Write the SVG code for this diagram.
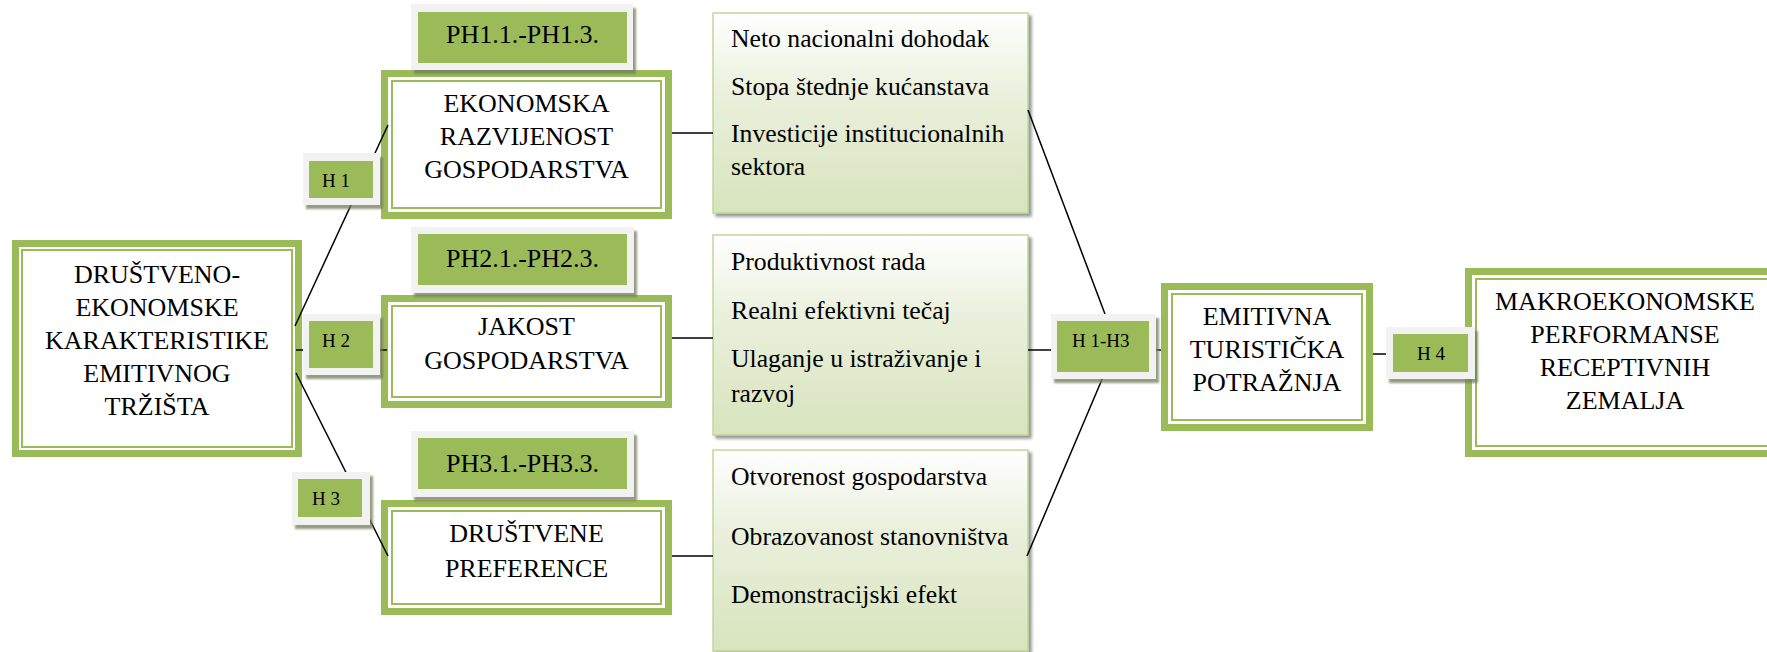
<svg xmlns="http://www.w3.org/2000/svg" width="1767" height="652" viewBox="0 0 1767 652">
<defs>
<linearGradient id="lg" x1="0" y1="0" x2="0" y2="1">
<stop offset="0" stop-color="#ffffff"/>
<stop offset="0.4" stop-color="#eaf0dc"/>
<stop offset="1" stop-color="#d7e4bd"/>
</linearGradient>
<filter id="sh" x="-10%" y="-10%" width="130%" height="140%">
<feDropShadow dx="3" dy="4" stdDeviation="1.2" flood-color="#6f7a5a" flood-opacity="0.75"/>
</filter>
<filter id="sh2" x="-5%" y="-5%" width="115%" height="115%">
<feDropShadow dx="3" dy="3" stdDeviation="1.5" flood-color="#7f7f7f" flood-opacity="0.8"/>
</filter>
</defs>
<style>
text{font-family:'Liberation Serif','Times New Roman',Times,serif;font-size:26px;fill:#000}
.c{text-anchor:middle}
.l{font-size:25.7px}
.h{font-size:19px}
.g{fill:#9bbb59}
.w{fill:#ffffff}
.tl{fill:none;stroke:#9bbb59;stroke-width:2}
.fr{fill:#f2f2f2}
.lb{fill:url(#lg);stroke:#c3d69b;stroke-width:1.5}
.cn{stroke:#000;stroke-width:1.5;fill:none}
</style>
<rect width="1767" height="652" fill="#ffffff"/>
<g font-family="Liberation Serif, serif">

<g id="main">
<rect class="g" x="12" y="240" width="290" height="217"/>
<rect class="w" x="19" y="247" width="276" height="203"/>
<rect class="tl" x="22" y="250" width="270" height="197"/>
<text class="c" x="157" y="283" font-family="Liberation Serif, serif">DRUŠTVENO-</text>
<text class="c" x="157" y="316" font-family="Liberation Serif, serif">EKONOMSKE</text>
<text class="c" x="157" y="349" font-family="Liberation Serif, serif">KARAKTERISTIKE</text>
<text class="c" x="157" y="382" font-family="Liberation Serif, serif">EMITIVNOG</text>
<text class="c" x="157" y="415" font-family="Liberation Serif, serif">TRŽIŠTA</text>
</g>

<g id="ekonomska">
<rect class="g" x="381" y="70" width="291" height="149"/>
<rect class="w" x="388" y="77" width="277" height="135"/>
<rect class="tl" x="392" y="81" width="269" height="127"/>
<text class="c" x="526.5" y="112">EKONOMSKA</text>
<text class="c" x="526.5" y="145">RAZVIJENOST</text>
<text class="c" x="526.5" y="178">GOSPODARSTVA</text>
</g>

<g id="jakost">
<rect class="g" x="381" y="295" width="291" height="113"/>
<rect class="w" x="388" y="302" width="277" height="99"/>
<rect class="tl" x="392" y="306" width="269" height="91"/>
<text class="c" x="526.5" y="335">JAKOST</text>
<text class="c" x="526.5" y="369">GOSPODARSTVA</text>
</g>

<g id="drustvene">
<rect class="g" x="381" y="500" width="291" height="115"/>
<rect class="w" x="388" y="507" width="277" height="101"/>
<rect class="tl" x="392" y="511" width="269" height="93"/>
<text class="c" x="526.5" y="542">DRUŠTVENE</text>
<text class="c" x="526.5" y="577">PREFERENCE</text>
</g>

<g id="emitivna">
<rect class="g" x="1161" y="283" width="212" height="148"/>
<rect class="w" x="1168" y="290" width="198" height="134"/>
<rect class="tl" x="1172" y="294" width="190" height="126"/>
<text class="c" x="1267" y="325">EMITIVNA</text>
<text class="c" x="1267" y="358">TURISTIČKA</text>
<text class="c" x="1267" y="391">POTRAŽNJA</text>
</g>

<g id="makro">
<rect class="g" x="1465" y="268" width="340" height="189"/>
<rect class="w" x="1472" y="275" width="326" height="175"/>
<rect class="tl" x="1476" y="279" width="318" height="167"/>
<text class="c" x="1625" y="310">MAKROEKONOMSKE</text>
<text class="c" x="1625" y="343">PERFORMANSE</text>
<text class="c" x="1625" y="376">RECEPTIVNIH</text>
<text class="c" x="1625" y="409">ZEMALJA</text>
</g>

<g id="list1">
<rect class="lb" x="713" y="13" width="315" height="200" filter="url(#sh2)"/>
<text class="l" x="731" y="47">Neto nacionalni dohodak</text>
<text class="l" x="731" y="95">Stopa štednje kućanstava</text>
<text class="l" x="731" y="142">Investicije institucionalnih</text>
<text class="l" x="731" y="175">sektora</text>
</g>

<g id="list2">
<rect class="lb" x="713" y="235" width="315" height="200" filter="url(#sh2)"/>
<text class="l" x="731" y="270">Produktivnost rada</text>
<text class="l" x="731" y="319">Realni efektivni tečaj</text>
<text class="l" x="731" y="367">Ulaganje u istraživanje i</text>
<text class="l" x="731" y="402">razvoj</text>
</g>

<g id="list3">
<rect class="lb" x="713" y="450" width="315" height="201" filter="url(#sh2)"/>
<text class="l" x="731" y="485">Otvorenost gospodarstva</text>
<text class="l" x="731" y="545">Obrazovanost stanovništva</text>
<text class="l" x="731" y="603">Demonstracijski efekt</text>
</g>

<g id="connectors">
<line class="cn" x1="295" y1="326" x2="388" y2="125"/>
<line class="cn" x1="296" y1="350" x2="387" y2="350"/>
<line class="cn" x1="296" y1="373" x2="388" y2="556"/>
<line class="cn" x1="672" y1="133" x2="713" y2="133"/>
<line class="cn" x1="672" y1="338" x2="713" y2="338"/>
<line class="cn" x1="672" y1="556" x2="713" y2="556"/>
<line class="cn" x1="1028" y1="110" x2="1108" y2="322"/>
<line class="cn" x1="1028" y1="350" x2="1161" y2="350"/>
<line class="cn" x1="1027" y1="556" x2="1106" y2="370"/>
<line class="cn" x1="1373" y1="354" x2="1465" y2="354"/>
</g>

<g id="ph1">
<rect class="fr" x="411" y="4" width="222" height="66" filter="url(#sh)"/>
<rect class="g" x="418" y="12" width="209" height="51"/>
<text class="c" x="522.5" y="43">PH1.1.-PH1.3.</text>
</g>
<g id="ph2">
<rect class="fr" x="411" y="227" width="223" height="66" filter="url(#sh)"/>
<rect class="g" x="418" y="234" width="209" height="51"/>
<text class="c" x="522.5" y="267">PH2.1.-PH2.3.</text>
</g>
<g id="ph3">
<rect class="fr" x="411" y="431" width="223" height="66" filter="url(#sh)"/>
<rect class="g" x="418" y="438" width="209" height="51"/>
<text class="c" x="522.5" y="472">PH3.1.-PH3.3.</text>
</g>

<g id="h1">
<rect class="fr" x="303" y="153" width="77" height="52" filter="url(#sh)"/>
<rect class="g" x="309" y="161" width="64" height="37"/>
<text class="h" x="322" y="187">H 1</text>
</g>
<g id="h2">
<rect class="fr" x="303" y="314" width="77" height="61" filter="url(#sh)"/>
<rect class="g" x="309" y="321" width="64" height="47"/>
<text class="h" x="322" y="347">H 2</text>
</g>
<g id="h3">
<rect class="fr" x="292" y="472" width="78" height="53" filter="url(#sh)"/>
<rect class="g" x="298" y="479" width="64" height="38"/>
<text class="h" x="312" y="505">H 3</text>
</g>
<g id="h1h3">
<rect class="fr" x="1051" y="314" width="105" height="65" filter="url(#sh)"/>
<rect class="g" x="1057" y="321" width="92" height="51"/>
<text class="h" x="1072" y="347">H 1-H3</text>
</g>
<g id="h4">
<rect class="fr" x="1386" y="327" width="89" height="52" filter="url(#sh)"/>
<rect class="g" x="1393" y="334" width="75" height="38"/>
<text class="h" x="1417" y="360">H 4</text>
</g>
</g>
</svg>
